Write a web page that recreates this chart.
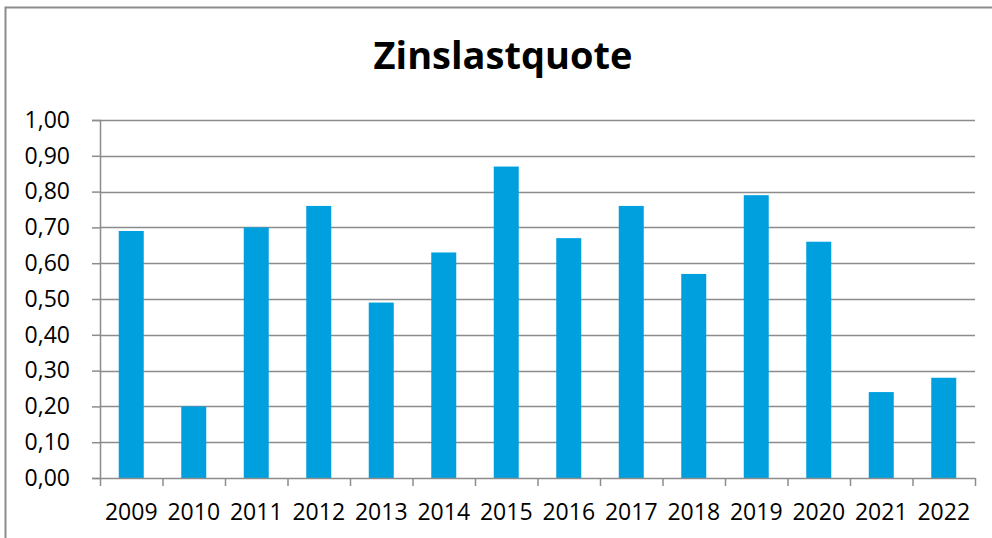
<!DOCTYPE html>
<html>
<head>
<meta charset="utf-8">
<script src="https://cdn.jsdelivr.net/npm/d3@7"></script>
<style>
  html, body { margin: 0; background: #fff; overflow: hidden; }
  svg { display: block; }
  .tick text { font-family: 'Open Sans', sans-serif; fill: #000; }
</style>
</head>
<body>
<div id="chart"></div>
<script>
const years = ['2009', '2010', '2011', '2012', '2013', '2014', '2015', '2016', '2017', '2018', '2019', '2020', '2021', '2022'];
const quote = [0.69, 0.20, 0.70, 0.76, 0.49, 0.63, 0.87, 0.67, 0.76, 0.57, 0.79, 0.66, 0.24, 0.28];
const yTicks = [0, 0.1, 0.2, 0.3, 0.4, 0.5, 0.6, 0.7, 0.8, 0.9, 1.0];

const WIDTH = 992;
const HEIGHT = 538;
const margin = { top: 120, right: 17, bottom: 60, left: 100 };

const svg = d3
  .select('#chart')
  .append('svg')
  .attr('width', WIDTH)
  .attr('height', HEIGHT);

// outer chart frame (right/bottom edges fall outside the window)
svg
  .append('path')
  .attr('d', `M5.5,${HEIGHT + 5}V7.5H${WIDTH + 5}`)
  .attr('fill', 'none')
  .attr('stroke', '#8c8c8c')
  .attr('stroke-width', 2);

// title
svg
  .append('text')
  .attr('x', 503)
  .attr('y', 69)
  .attr('text-anchor', 'middle')
  .style('font-family', "'Open Sans', sans-serif")
  .style('font-weight', 'bold')
  .style('font-size', '38px')
  .text('Zinslastquote');

const xScale = d3
  .scaleBand()
  .domain(years)
  .range([margin.left, WIDTH - margin.right])
  .paddingInner(0.6)
  .paddingOuter(0.3);

const yScale = d3
  .scaleLinear()
  .domain([0, 1])
  .range([HEIGHT - margin.bottom, margin.top]);

// gridlines
svg
  .append('g')
  .selectAll('line')
  .data(yTicks.slice(1))
  .enter()
  .append('line')
  .attr('x1', margin.left)
  .attr('x2', WIDTH - margin.right)
  .attr('y1', d => Math.round(yScale(d)) + 0.5)
  .attr('y2', d => Math.round(yScale(d)) + 0.5)
  .attr('stroke', '#8c8c8c')
  .attr('stroke-width', 1.5);

// bars
svg
  .append('g')
  .selectAll('rect')
  .data(quote)
  .enter()
  .append('rect')
  .attr('x', (d, i) => xScale(years[i]))
  .attr('y', d => yScale(d))
  .attr('width', xScale.bandwidth())
  .attr('height', d => yScale(0) - yScale(d))
  .attr('fill', '#00a0df');

// y axis
const yAxis = d3
  .axisLeft(yScale)
  .tickValues(yTicks)
  .tickSize(8)
  .tickPadding(22)
  .tickFormat(d => d3.format('.2f')(d).replace('.', ','));

svg
  .append('g')
  .attr('transform', `translate(${margin.left},0)`)
  .call(yAxis)
  .call(g => g.selectAll('.tick text').style('font-size', '23px'))
  .call(g => g.selectAll('line, path').attr('stroke', '#8c8c8c').attr('stroke-width', 1.5));

// x axis: ticks sit between categories, Excel-style
const xAxisScale = d3
  .scaleLinear()
  .domain([0, years.length])
  .range([margin.left, WIDTH - margin.right]);

const xAxis = d3
  .axisBottom(xAxisScale)
  .tickValues(d3.range(years.length + 1))
  .tickSize(8)
  .tickSizeOuter(0)
  .tickFormat('');

svg
  .append('g')
  .attr('transform', `translate(0,${yScale(0)})`)
  .call(xAxis)
  .call(g => g.selectAll('line, path').attr('stroke', '#8c8c8c').attr('stroke-width', 1.5));

// category labels
svg
  .append('g')
  .selectAll('text')
  .data(years)
  .enter()
  .append('text')
  .attr('x', d => xScale(d) + xScale.bandwidth() / 2)
  .attr('y', 520)
  .attr('text-anchor', 'middle')
  .style('font-family', "'Open Sans', sans-serif")
  .style('font-size', '23px')
  .text(d => d);
</script>
</body>
</html>
